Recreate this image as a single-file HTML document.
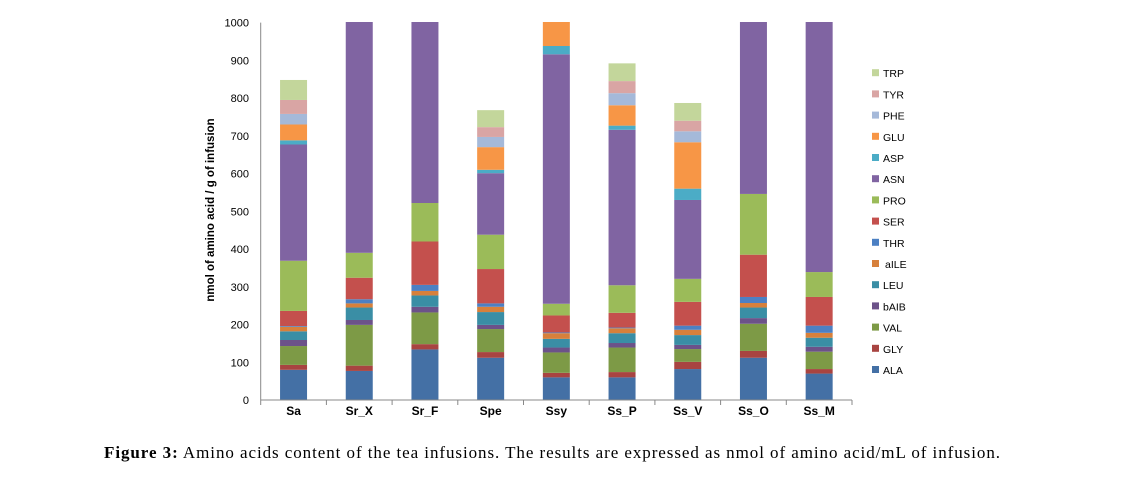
<!DOCTYPE html>
<html><head><meta charset="utf-8"><style>
body{margin:0;background:#fff;width:1122px;height:485px;overflow:hidden}
svg text{font-family:"Liberation Sans",sans-serif}
</style></head><body>
<svg width="1122" height="485" id="chart">
<defs><clipPath id="plotclip"><rect x="250" y="22" width="620" height="380"/></clipPath></defs>
<g id="grid"></g>
<g id="bars" clip-path="url(#plotclip)"></g>
<g id="axes"></g>
<g id="legend"></g>
<text transform="translate(214,210) rotate(-90)" text-anchor="middle" font-size="11.5" font-weight="bold" fill="#000">nmol of amino acid / g of infusion</text>
<text x="104" y="458" font-size="17" textLength="896" lengthAdjust="spacing" style="font-family:'Liberation Serif',serif" fill="#000"><tspan font-weight="bold">Figure 3:</tspan> Amino acids content of the tea infusions. The results are expressed as nmol of amino acid/mL of infusion.</text>
</svg>
<script>
const categories = ["Sa","Sr_X","Sr_F","Spe","Ssy","Ss_P","Ss_V","Ss_O","Ss_M"];
const seriesNames = ["ALA","GLY","VAL","bAIB","LEU","aILE","THR","SER","PRO","ASN","ASP","GLU","PHE","TYR","TRP"];
const seriesColors = ["#4470a5","#a84441","#7d9a46","#6c5289","#3a8ea5","#d7803b","#4c80c3","#c4504d","#9bbb59","#8064a2","#4bacc6","#f79646","#a5b9d9","#d9a5a4","#c3d69b"];
const ALA  = [80, 77, 134, 112, 60, 60, 82, 112, 70];
const GLY  = [13, 14, 14, 15, 12, 14, 19, 18, 12];
const VAL  = [50, 108, 84, 61, 54, 65, 34, 72, 46];
const bAIB = [16, 13, 15, 11, 13, 12, 11, 15, 13];
const LEU  = [23, 33, 30, 34, 23, 26, 26, 28, 24];
const aILE = [12, 11, 12, 14, 15, 13, 14, 12, 13];
const THR  = [2, 11, 16, 9, 2, 2, 11, 16, 19];
const SER  = [40, 57, 115, 91, 45, 39, 63, 112, 76];
const PRO  = [133, 66, 102, 91, 31, 73, 61, 161, 66];
const ASN  = [308, 700, 600, 163, 661, 412, 209, 600, 700];
const ASP  = [11, 0, 0, 9, 22, 11, 30, 0, 0];
const GLU  = [42, 0, 0, 60, 120, 54, 123, 0, 0];
const PHE  = [28, 0, 0, 27, 0, 32, 29, 0, 0];
const TYR  = [37, 0, 0, 26, 0, 32, 28, 0, 0];
const TRP  = [53, 0, 0, 45, 0, 47, 47, 0, 0];
const seriesValues = [ALA,GLY,VAL,bAIB,LEU,aILE,THR,SER,PRO,ASN,ASP,GLU,PHE,TYR,TRP];
const yTicks = [0,100,200,300,400,500,600,700,800,900,1000];

const NS="http://www.w3.org/2000/svg";
const plotX0=260.7, catW=65.7, barW=27;
function yScale(v){return 400 - v*0.3774;}
function xCenter(i){return plotX0 + catW*i + catW/2;}
function mk(tag,attrs,parent){const e=document.createElementNS(NS,tag);for(const k in attrs)e.setAttribute(k,attrs[k]);parent.appendChild(e);return e;}
const axes=document.getElementById('axes'), bars=document.getElementById('bars'), legend=document.getElementById('legend');

yTicks.forEach(t=>{
  const tx=mk('text',{x:249,y:yScale(t)+4,'text-anchor':'end','font-size':'11',fill:'#000'},axes);
  
  
  tx.textContent=t;
});
const yax=mk('line',{x1:plotX0,y1:yScale(1000),x2:plotX0,y2:400,stroke:'#888','stroke-width':1},axes);


const xax=mk('line',{x1:plotX0,y1:400,x2:plotX0+catW*categories.length,y2:400,stroke:'#888','stroke-width':1},axes);


for(let i=0;i<=categories.length;i++){
  mk('line',{x1:plotX0+catW*i,y1:400,x2:plotX0+catW*i,y2:405,stroke:'#888'},axes);
}
categories.forEach((c,i)=>{
  let cum=0;
  seriesValues.forEach((arr,s)=>{
    const v=arr[i]; if(!v){return;}
    const r=mk('rect',{x:xCenter(i)-barW/2,y:yScale(cum+v),width:barW,height:yScale(cum)-yScale(cum+v),fill:seriesColors[s]},bars);
    
    
    cum+=v;
  });
  const t=mk('text',{x:xCenter(i),y:415,'text-anchor':'middle','font-size':'12','font-weight':'bold',fill:'#000'},axes);
  
  
  t.textContent=c;
});
seriesNames.forEach((n,s)=>{
  const y=370 - s*21.2;
  const g=mk('g',{},legend);
  
  
  mk('rect',{x:872,y:y-4,width:7,height:7,fill:seriesColors[s]},g);
  const t=mk('text',{x:(n==='aILE'?885:883),y:y+4,'font-size':'10.5',fill:'#000'},g);
  t.textContent=n;
});
</script>
</body></html>
